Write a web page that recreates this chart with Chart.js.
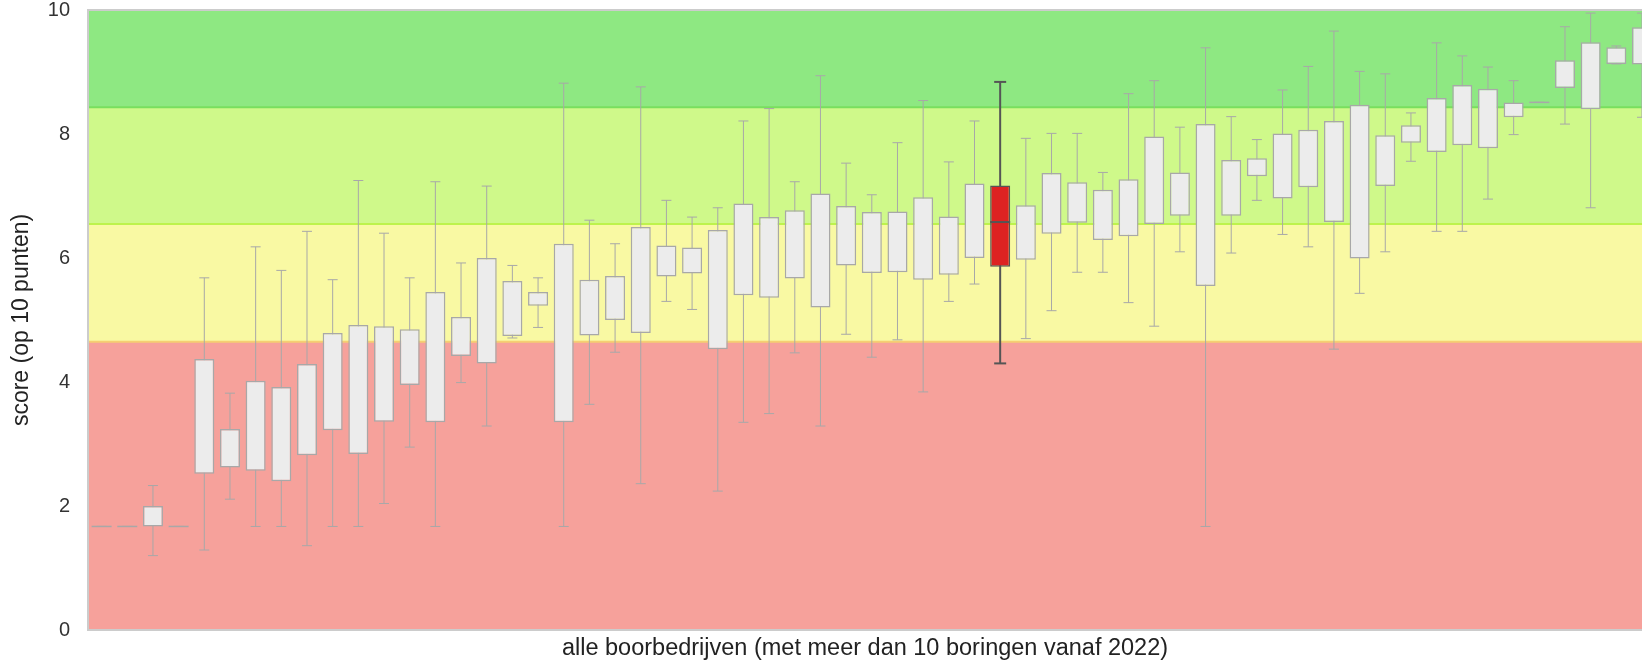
<!DOCTYPE html>
<html>
<head>
<meta charset="utf-8">
<script src="https://cdn.jsdelivr.net/npm/chart.js@4/dist/chart.umd.min.js"></script>
<style>
  html,body{margin:0;padding:0;background:#fff;overflow:hidden}
  #wrap{width:1642px;height:663px}
</style>
</head>
<body>
<div id="wrap"><canvas id="box"></canvas></div>
<script>
// scores per boorbedrijf, sorted left to right (op 10 punten)
const q1 = [1.67,1.67,1.67,1.67,2.52,2.62,2.57,2.40,2.82,3.22,2.84,3.36,3.95,3.35,4.42,4.30,4.74,5.23,3.35,4.75,5.00,4.79,5.70,5.75,4.53,5.40,5.36,5.67,5.20,5.88,5.76,5.77,5.65,5.73,6.00,5.86,5.97,6.39,6.57,6.29,6.35,6.55,6.68,5.55,6.68,7.32,6.96,7.14,6.58,5.99,7.16,7.86,7.71,7.82,7.77,8.27,8.51,8.74,8.40,9.13,9.12];
const q3 = [1.67,1.67,2.00,1.67,4.37,3.24,4.02,3.92,4.29,4.79,4.92,4.90,4.85,5.45,5.05,6.00,5.63,5.45,6.23,5.65,5.71,6.50,6.20,6.17,6.45,6.88,6.66,6.77,7.04,6.84,6.74,6.75,6.98,6.67,7.20,7.17,6.85,7.37,7.22,7.10,7.27,7.96,7.38,8.16,7.58,7.61,8.01,8.07,8.21,8.47,7.98,8.14,8.58,8.79,8.73,8.51,8.51,9.19,9.48,9.40,9.72];
const lo = [1.67,1.67,1.20,1.67,1.29,2.11,1.67,1.67,1.36,1.67,1.67,2.04,2.95,1.67,3.99,3.29,4.71,4.88,1.67,3.64,4.48,2.36,5.30,5.17,2.24,3.35,3.49,4.47,3.29,4.77,4.40,4.68,3.84,5.30,5.58,4.30,4.70,5.15,5.77,5.77,5.28,4.90,6.10,1.67,6.08,6.93,6.38,6.18,4.53,5.43,6.10,7.56,6.43,6.43,6.95,7.99,8.51,8.16,6.81,9.13,8.27];
const hi = [1.67,1.67,2.33,1.67,5.68,3.82,6.18,5.80,6.43,5.65,7.25,6.40,5.68,7.23,5.92,7.16,5.88,5.68,8.82,6.61,6.23,8.76,6.93,6.66,6.81,8.21,8.41,7.23,8.94,7.53,7.02,7.86,8.54,7.55,8.21,8.84,7.93,8.01,8.01,7.38,8.65,8.86,8.11,9.39,8.28,7.91,8.71,9.09,9.66,9.01,8.97,8.34,9.47,9.26,9.08,8.86,8.51,9.73,9.95,9.42,9.95];
// medians only where visible (flat boxes and the highlighted one)
const med = [1.67,1.67,null,1.67,null,null,null,null,null,null,null,null,null,null,null,null,null,null,null,null,null,null,null,null,null,null,null,null,null,null,null,null,null,null,null,6.58,null,null,null,null,null,null,null,null,null,null,null,null,null,null,null,null,null,null,null,null,8.51,null,null,null,null];
const highlight = 36;
const bandEdges = [0,4.65,6.55,8.43,10];
const bandColors = ['#f6a19b','#f9f9a3','#cff98a','#8ee882'];
const bandLines = ['#f5cf72','#bdf34c','#78df5e'];
const yTicks = [0,2,4,6,8,10];

const pos = q1.map((_,i)=>i+1);
const isHi = i => i+1===highlight;
const pts = arr => pos.map((x,i)=>({x,y:arr[i]}));

const bandsPlugin = {
  id:'bands',
  beforeDatasetsDraw(chart){
    const {ctx,chartArea:a,scales:{y}} = chart;
    ctx.save();
    bandColors.forEach((c,i)=>{
      const t=y.getPixelForValue(bandEdges[i+1]), b=y.getPixelForValue(bandEdges[i]);
      ctx.fillStyle=c; ctx.fillRect(a.left,t,a.right-a.left,b-t);
    });
    ctx.lineWidth=2;
    bandLines.forEach((c,i)=>{
      const py=y.getPixelForValue(bandEdges[i+1]);
      ctx.strokeStyle=c; ctx.beginPath(); ctx.moveTo(a.left,py); ctx.lineTo(a.right,py); ctx.stroke();
    });
    ctx.strokeStyle='#cccccc'; ctx.lineWidth=2;
    ctx.beginPath();
    ctx.moveTo(a.right+2,a.top); ctx.lineTo(a.left,a.top); ctx.lineTo(a.left,a.bottom); ctx.lineTo(a.right+2,a.bottom);
    ctx.stroke();
    ctx.restore();
  }
};

const txt = '#333333';
const fam = '"Liberation Sans", Arial, sans-serif';
new Chart(document.getElementById('box'),{
  type:'bar',
  data:{datasets:[
    {label:'whisker',data:pos.map((x,i)=>isHi(i)?{x,y:null}:{x,y:[lo[i],hi[i]]}),backgroundColor:'#a8a8a8',grouped:false,maxBarThickness:1,order:4},
    {label:'whiskerHi',data:pos.map((x,i)=>isHi(i)?{x,y:[lo[i],hi[i]]}:{x,y:null}),backgroundColor:'#555555',grouped:false,maxBarThickness:2,order:4},
    {type:'scatter',label:'caps',data:pts(lo).concat(pts(hi)),pointStyle:'line',
      pointRadius:ctx=>ctx.raw&&ctx.raw.x===highlight?6:5,
      pointBorderColor:ctx=>ctx.raw&&ctx.raw.x===highlight?'#555555':'#a8a8a8',
      pointBorderWidth:ctx=>ctx.raw&&ctx.raw.x===highlight?2:1,order:3},
    {label:'box',data:pos.map((x,i)=>({x,y:[q1[i],q3[i]]})),grouped:false,
      barPercentage:0.78,categoryPercentage:1,borderSkipped:false,
      backgroundColor:pos.map((x,i)=>isHi(i)?'#dd2222':'#ececec'),
      borderColor:pos.map((x,i)=>isHi(i)?'#555555':'#a8a8a8'),
      borderWidth:1.5,order:2},
    {type:'scatter',label:'median',data:pts(med),pointStyle:'line',pointRadius:10,
      pointBorderColor:ctx=>ctx.raw&&ctx.raw.x===highlight?'#555555':'#a8a8a8',
      pointBorderWidth:ctx=>ctx.raw&&ctx.raw.x===highlight?2:1.5,order:1}
  ]},
  options:{
    responsive:true,maintainAspectRatio:false,animation:false,
    layout:{autoPadding:false,padding:{top:10,left:0,right:0,bottom:0}},
    plugins:{legend:{display:false},tooltip:{enabled:false}},
    scales:{
      x:{type:'linear',min:0.47,max:61,offset:false,grid:{display:false,drawTicks:false},border:{display:false},
        ticks:{display:false},
        title:{display:true,text:'alle boorbedrijven (met meer dan 10 boringen vanaf 2022)',color:'#222',
          font:{family:fam,size:23.5},padding:{top:4,bottom:0}},
        afterFit(s){s.height=33;s.paddingLeft=0;s.paddingRight=0}},
      y:{min:0,max:10,grid:{display:false,drawTicks:false},border:{display:false},
        afterBuildTicks(s){s.ticks=yTicks.map(v=>({value:v}))},
        ticks:{color:txt,padding:18,font:{family:fam,size:20}},
        title:{display:true,text:'score (op 10 punten)',color:'#222',
          font:{family:fam,size:23},padding:{top:8,bottom:0}},
        afterFit(s){s.width=88;s.paddingTop=0;s.paddingBottom=0}}
    }
  },
  plugins:[bandsPlugin]
});
</script>
</body>
</html>
